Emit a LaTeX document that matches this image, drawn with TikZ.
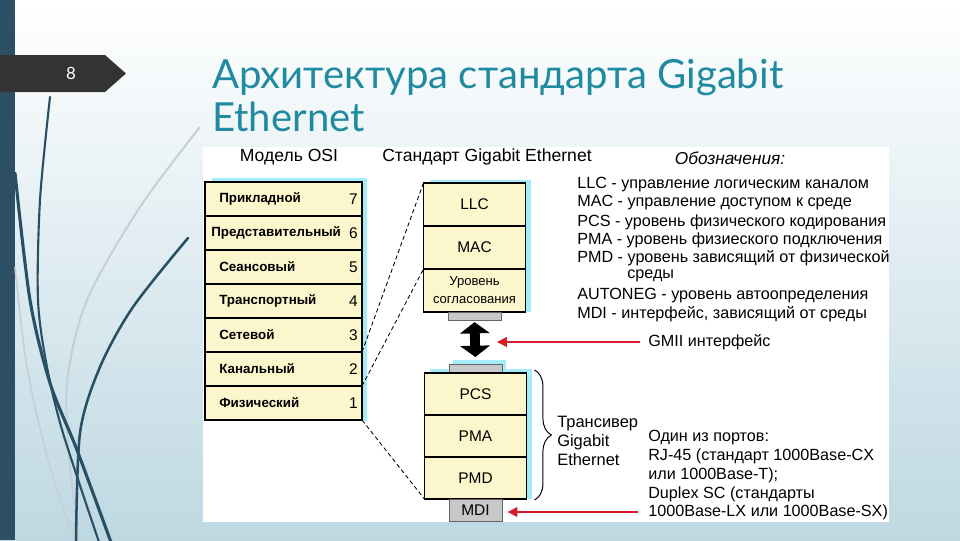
\documentclass[tikz,border=0pt]{standalone}
\usepackage{fontspec}
\setmainfont{Liberation Sans}
\newfontfamily\titlefont{Lato}
\usetikzlibrary{positioning, arrows.meta, decorations.pathreplacing}
\definecolor{slidebar}{RGB}{44,79,99}
\definecolor{tabgray}{RGB}{51,51,51}
\definecolor{titleteal}{RGB}{31,138,160}
\definecolor{layerfill}{RGB}{251,246,204}
\definecolor{glow}{RGB}{165,236,250}
\definecolor{portgray}{RGB}{200,200,200}
\definecolor{ifred}{RGB}{215,30,40}
\definecolor{bgblue}{RGB}{190,216,226}
\definecolor{stemblue}{RGB}{40,80,100}
\definecolor{stemlight}{RGB}{200,207,212}

\begin{document}
\begin{tikzpicture}[x=0.025cm, y=-0.025cm,
  layer/.style={draw=black, line width=1.2pt, fill=layerfill, inner sep=0pt, outer sep=0pt},
  osibox/.style={layer, minimum width=3.925cm, minimum height=0.85cm},
  gebox/.style={layer, minimum width=2.55cm, minimum height=1.075cm, font=\fontsize{11}{13}\selectfont},
  phybox/.style={gebox, minimum height=1.05cm},
  porttab/.style={draw=black!60, fill=portgray, line width=0.6pt, minimum width=1.325cm, inner sep=0pt, outer sep=0pt},
  osilab/.style={font=\bfseries\fontsize{9.5}{11}\selectfont, anchor=west, inner sep=0pt},
  osinum/.style={font=\fontsize{11}{13}\selectfont, anchor=east, inner sep=0pt},
  legend/.style={font=\fontsize{11.5}{13}\selectfont, anchor=west, inner sep=0pt},
  head/.style={font=\fontsize{12.5}{14}\selectfont, inner sep=0pt},
  title/.style={font=\titlefont\fontsize{28.5}{34}\selectfont, text=titleteal, anchor=base west, inner sep=0pt},
  mapline/.style={line width=0.6pt, dash pattern=on 3pt off 2pt},
  ifarrow/.style={draw=ifred, line width=0.8pt, -{Triangle[width=7pt,length=7pt]}},
  gmiiarrow/.style={line width=7pt, {Triangle[width=21pt,length=8pt]}-{Triangle[width=21pt,length=8pt]}},
  stem/.style={draw=stemblue, line cap=round}]

%% ── slide background ─────────────────────────────────────────────
\useasboundingbox (0,0) rectangle (960,540);
\clip (0,0) rectangle (960,540);
\shade[top color=white, bottom color=bgblue] (0,0) rectangle (960,540);
\fill[slidebar] (0,0) rectangle (15,540);

% grass stems on the left
\draw[draw=stemlight, line width=1.4pt] plot[smooth] coordinates {(200,127) (140,207) (87,300) (67,383) (70,467) (80,545)};
\draw[draw=stemlight, line width=1.2pt] plot[smooth] coordinates {(15,267) (27,367) (50,467) (77,545)};
\draw[stem, line width=1.5pt] plot[smooth] coordinates {(50,97) (40,200) (38,300) (47,367) (63,433) (100,545)};
\draw[stem, line width=2.2pt] plot[smooth] coordinates {(15,173) (30,300) (50,383) (77,450) (112,545)};
\draw[stem, line width=1.8pt] plot[smooth] coordinates {(188,238) (133,307) (100,367) (80,433) (76,545)};

% page tab
\fill[tabgray] (0,55) -- (105,55) -- (126,73.5) -- (105,92) -- (0,92) -- cycle;
\node[text=white, font=\titlefont\fontsize{12}{14}\selectfont] (pagenum) at (71,73) {8};

%% ── title ────────────────────────────────────────────────────────
\node[title] (title) at (212,88) {Архитектура стандарта Gigabit};
\node[title] (title2) at (212,131) {Ethernet};

%% ── diagram panel ────────────────────────────────────────────────
\fill[white] (203,147) rectangle (889,522);

\node[head] (osihead) at (289,157) {Модель OSI};
\node[head] (gehead) at (487,157) {Стандарт Gigabit Ethernet};
\node[head, font=\itshape\fontsize{12.3}{14}\selectfont] (leghead) at (730,158) {Обозначения:};

% cyan glow behind the stacks
\fill[glow] (212,178) rectangle (367,421);
\fill[glow] (430,180) rectangle (531,312);
\fill[glow] (453,360) rectangle (506,369);
\fill[glow] (430,369) rectangle (532,499);

%% ── OSI model ────────────────────────────────────────────────────
\foreach \n/\lab/\s [count=\i from 0] in {7/Прикладной/14, 6/Представительный/6,
    5/Сеансовый/14, 4/Транспортный/14, 3/Сетевой/14, 2/Канальный/14, 1/Физический/14}{
  \node[osibox] (osi\n) at (283.5,{199+34*\i}) {};
  \node[osilab] (osilab\n) at ([xshift=\s*0.025cm]osi\n.west) {\lab};
  \node[osinum] (osinum\n) at ([xshift=-0.1cm]osi\n.east) {\n};
}

%% ── Gigabit Ethernet stack ───────────────────────────────────────
\node[gebox] (llc) at (474.5,204.5) {LLC};
\node[gebox, below=0pt of llc] (mac) {MAC};
\node[gebox, below=0pt of mac, align=center, font=\fontsize{9.3}{12.8}\selectfont] (rs) {Уровень\\согласования};
\node[porttab, minimum height=0.2cm, below=0pt of rs] (rstab) {};

\node[porttab, minimum height=0.225cm] (pcstab) at (475.5,368.5) {};
\node[phybox, below=0pt of pcstab] (pcs) {PCS};
\node[phybox, below=0pt of pcs] (pma) {PMA};
\node[phybox, below=0pt of pma] (pmd) {PMD};
\node[porttab, minimum height=0.55cm, below=0pt of pmd, font=\fontsize{11}{13}\selectfont] (mdi) {MDI};

% GMII between the two halves
\draw[gmiiarrow, shorten <=1.5pt, shorten >=5pt] (rstab.south) -- (pcstab.north);

% OSI layers mapped onto the standard
\draw[mapline] (osi3.south east) -- (llc.north west);
\draw[mapline] (osi2.south east) -- (rs.north west);
\draw[mapline] (osi1.south east) -- (pmd.south west);

% transceiver brace
\draw[line width=0.7pt, decorate, decoration={brace, amplitude=12pt, aspect=0.5}]
  ([shift={(8,-3)}]pcs.north east) -- ([shift={(8,1)}]pmd.south east);
\node[legend, align=left, font=\fontsize{11.7}{13.8}\selectfont] (trx) at (557,441) {Трансивер\\Gigabit\\Ethernet};

%% ── legend ───────────────────────────────────────────────────────
\foreach \k/\x/\y/\txt in {llc/577/185/{LLC - управление логическим каналом},
    mac/577/203/{MAC - управление доступом к среде},
    pcs/577/222/{PCS - уровень физического кодирования},
    pma/577/240/{PMA - уровень физиеского подключения},
    pmd/577/258/{PMD - уровень зависящий от физической},
    pmdb/627/276/{среды},
    an/577/296/{AUTONEG - уровень автоопределения},
    mdi/577/314/{MDI - интерфейс, зависящий от среды}}{
  \node[legend] (leg\k) at (\x,\y) {\txt};
}

%% ── interfaces ───────────────────────────────────────────────────
\node[legend] (gmii) at (648,342) {GMII интерфейс};
\coordinate (gmiitip) at (497,342);
\draw[ifarrow, shorten <=6pt] (gmii.west) -- (gmiitip);

\foreach \k/\y/\txt in {1/438/{Один из портов:}, 2/456/{RJ-45 (стандарт 1000Base-CX},
    3/475/{или 1000Base-T);}, 4/494/{Duplex SC (стандарты}, 5/512/{1000Base-LX или 1000Base-SX)}}{
  \node[legend] (port\k) at (648,\y) {\txt};
}
\draw[ifarrow, shorten <=7pt, shorten >=4pt] (port5.west) -- (port5.west -| mdi.east);

\end{tikzpicture}
\end{document}
